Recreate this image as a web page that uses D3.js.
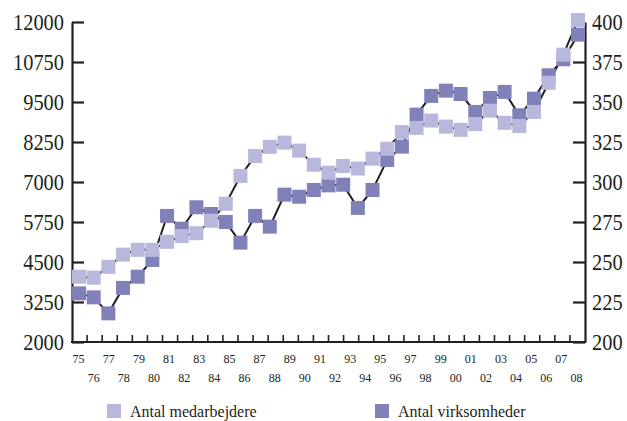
<!DOCTYPE html>
<html>
<head>
<meta charset="utf-8">
<script src="https://cdn.jsdelivr.net/npm/d3@7"></script>
<style>
  body { margin: 0; background: #fff; }
  text { font-family: "Liberation Serif", "DejaVu Serif", serif; fill: #231f20; }
</style>
</head>
<body>
<div id="plot"></div>
<script>
// Data
const years = d3.range(1975, 2010);
const medarbejdere = [4040, 4010, 4350, 4730, 4880, 4880, 5130, 5310, 5400, 5790,
  6320, 7190, 7810, 8100, 8230, 7980, 7540, 7290, 7500, 7420,
  7730, 8040, 8560, 8690, 8920, 8730, 8630, 8810, 9230, 8850,
  8750, 9190, 10100, 10980, 12060];
const virksomheder = [230.4, 227.9, 217.9, 233.8, 240.8, 251.3, 278.8, 270.8, 284.2, 280,
  275, 262.1, 278.8, 272.1, 292.1, 290.8, 295, 297.9, 298.3, 283.8,
  295, 313.8, 322.1, 342.1, 353.8, 357.1, 355, 343.8, 352.5, 356.3,
  341.7, 352.1, 366.7, 376.7, 392.1];
const tickLabels = ["75","76","77","78","79","80","81","82","83","84","85","86","87","88","89","90","91",
  "92","93","94","95","96","97","98","99","00","01","02","03","04","05","06","07","08"];
const leftTicks = [2000, 3250, 4500, 5750, 7000, 8250, 9500, 10750, 12000];
const rightTicks = [200, 225, 250, 275, 300, 325, 350, 375, 400];
const seriesNames = ["Antal medarbejdere", "Antal virksomheder"];

const width = 627;
const height = 421;
const lightColor = "#b8b8dc";
const darkColor = "#8181ba";
const ink = "#231f20";

const svg = d3.select("#plot")
  .append("svg")
  .attr("width", width)
  .attr("height", height);

// Scales
const yLeft = d3.scaleLinear().domain([2000, 12000]).range([342, 22]);
const yRight = d3.scaleLinear().domain([200, 400]).range([342, 22]);
const x = d3.scalePoint().domain(years).range([79, 578]);
const xBand = d3.scaleBand().domain(tickLabels).range([72, 585]);

// Left axis
const leftAxis = svg.append("g")
  .attr("transform", "translate(72,0)")
  .call(d3.axisLeft(yLeft).tickValues(leftTicks).tickFormat(d3.format("d"))
    .tickSizeInner(-12).tickSizeOuter(0).tickPadding(8));

// Right axis
const rightAxis = svg.append("g")
  .attr("transform", "translate(585,0)")
  .call(d3.axisRight(yRight).tickValues(rightTicks).tickFormat(d3.format("d"))
    .tickSizeInner(-12).tickSizeOuter(0).tickPadding(7));

[leftAxis, rightAxis].forEach(g => {
  g.select(".domain").attr("stroke", ink).attr("stroke-width", 2.2);
  g.selectAll(".tick line").attr("stroke", ink).attr("stroke-width", 2.2);
  g.selectAll(".tick text")
    .attr("font-size", 23)
    .attr("fill", ink)
    .attr("font-family", "Liberation Serif")
    .attr("textLength", d => String(d).length * 10.2)
    .attr("lengthAdjust", "spacingAndGlyphs");
});

// Bottom axis
const bottom = svg.append("g");
bottom.append("line")
  .attr("x1", 71).attr("x2", 586)
  .attr("y1", 342).attr("y2", 342)
  .attr("stroke", ink).attr("stroke-width", 2.2);

bottom.selectAll("line.tick")
  .data(tickLabels.slice(1))
  .join("line")
  .attr("class", "tick")
  .attr("x1", d => xBand(d)).attr("x2", d => xBand(d))
  .attr("y1", 342).attr("y2", 335)
  .attr("stroke", ink).attr("stroke-width", 1.6);

bottom.selectAll("text")
  .data(tickLabels)
  .join("text")
  .attr("x", d => xBand(d) + xBand.bandwidth() / 2 - 1)
  .attr("y", (d, i) => i % 2 === 0 ? 363 : 382)
  .attr("text-anchor", "middle")
  .attr("font-size", 12)
  .text(d => d);

// Lines
const lineLeft = d3.line().x((d, i) => x(years[i])).y(d => yLeft(d));
const lineRight = d3.line().x((d, i) => x(years[i])).y(d => yRight(d));

svg.append("path")
  .datum(virksomheder)
  .attr("d", lineRight)
  .attr("fill", "none")
  .attr("stroke", ink)
  .attr("stroke-width", 2);

svg.append("path")
  .datum(medarbejdere)
  .attr("d", lineLeft)
  .attr("fill", "none")
  .attr("stroke", ink)
  .attr("stroke-width", 2);

// Markers
const size = 14;
svg.append("g").selectAll("rect")
  .data(virksomheder)
  .join("rect")
  .attr("x", (d, i) => x(years[i]) - size / 2)
  .attr("y", d => yRight(d) - size / 2)
  .attr("width", size)
  .attr("height", size)
  .attr("fill", darkColor);

svg.append("g").selectAll("rect")
  .data(medarbejdere)
  .join("rect")
  .attr("x", (d, i) => x(years[i]) - size / 2)
  .attr("y", d => yLeft(d) - size / 2)
  .attr("width", size)
  .attr("height", size)
  .attr("fill", lightColor);

// Legend
const legend = svg.append("g");
const legendX = [107, 375];
const legendColors = [lightColor, darkColor];

legend.selectAll("rect")
  .data(seriesNames)
  .join("rect")
  .attr("x", (d, i) => legendX[i])
  .attr("y", 404)
  .attr("width", 14)
  .attr("height", 14)
  .attr("fill", (d, i) => legendColors[i]);

legend.selectAll("text")
  .data(seriesNames)
  .join("text")
  .attr("x", (d, i) => legendX[i] + 23)
  .attr("y", 417)
  .attr("font-size", 16)
  .text(d => d);
</script>
</body>
</html>
